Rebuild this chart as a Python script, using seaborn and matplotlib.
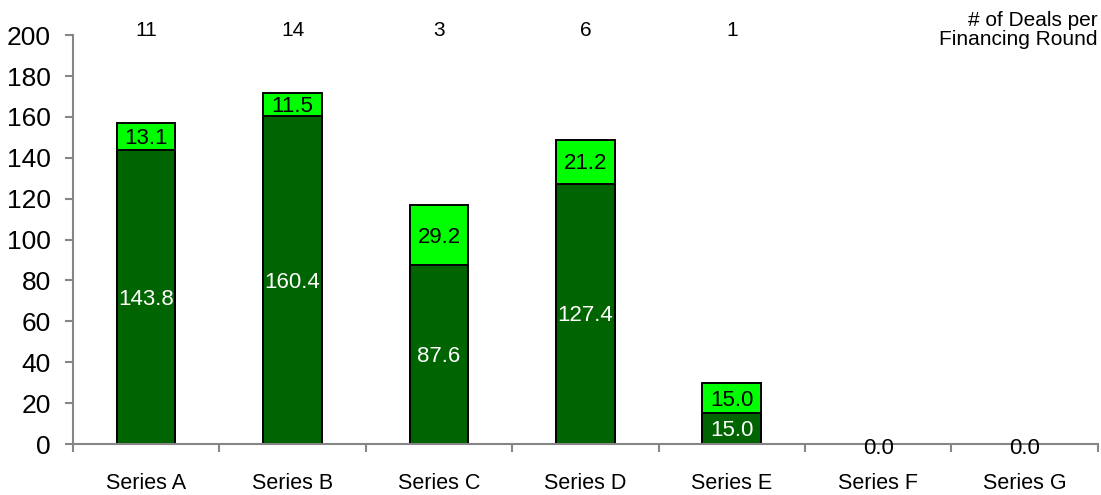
import matplotlib
matplotlib.use("Agg")
import matplotlib.pyplot as plt
import seaborn as sns
import pandas as pd
import numpy as np

# Capital invested per financing round ($M), split into two tranches
rounds = ["Series A", "Series B", "Series C", "Series D", "Series E", "Series F", "Series G"]
lower_vals = [143.8, 160.4, 87.6, 127.4, 15.0, 0.0, 0.0]
upper_vals = [13.1, 11.5, 29.2, 21.2, 15.0, 0.0, 0.0]
deal_counts = ["11", "14", "3", "6", "1", "", ""]
y_ticks = [0, 20, 40, 60, 80, 100, 120, 140, 160, 180, 200]

DARK = "#006400"
BRIGHT = "#00FF00"
GREY = "#868686"

sns.set_theme(style="white")
plt.rcParams["font.family"] = ["Liberation Sans", "DejaVu Sans"]

df = pd.DataFrame({
    "round": rounds,
    "lower": lower_vals,
    "upper": upper_vals,
})
df["total"] = df["lower"] + df["upper"]

fig = plt.figure(figsize=(11.01, 4.95), dpi=100)
ax = fig.add_axes([0.0663, 0.103, 0.9307, 0.826])

# Stacked bars: full height in bright green, lower tranche drawn on top
sns.barplot(data=df, x="round", y="total", color=BRIGHT, saturation=1,
            width=0.4, edgecolor="black", linewidth=1.4, ax=ax)
sns.barplot(data=df, x="round", y="lower", color=DARK, saturation=1,
            width=0.4, edgecolor="black", linewidth=1.4, ax=ax)

x = np.arange(len(rounds))
for i in range(len(rounds)):
    lo, up = lower_vals[i], upper_vals[i]
    if lo + up == 0:
        ax.text(x[i], -2, f"{lo:.1f}", ha="center", va="center",
                fontsize=16, color="black", clip_on=False)
        continue
    ax.text(x[i], lo / 2 - 1, f"{lo:.1f}", ha="center", va="center",
            fontsize=16, color="white")
    ax.text(x[i], lo + up / 2 - 1, f"{up:.1f}", ha="center", va="center",
            fontsize=16, color="black")
    ax.text(x[i], 202.5, deal_counts[i], ha="center", va="center",
            fontsize=15, color="black", clip_on=False)

ax.text(6.5, 202.5, "# of Deals per\nFinancing Round", ha="right", va="center",
        fontsize=15, color="black", linespacing=1.0, clip_on=False)

ax.set_ylim(0, 200)
ax.set_xlim(-0.5, len(rounds) - 0.5)
ax.set_yticks(y_ticks)
ax.tick_params(axis="y", labelsize=19, length=6, width=1.5, color=GREY,
               left=True, pad=10, labelcolor="black")

# Category labels sit between the boundary tick marks
ax.set_xticks(np.arange(len(rounds) + 1) - 0.5)
ax.set_xticklabels([])
ax.set_xticks(x, minor=True)
ax.set_xticklabels(rounds, minor=True)
ax.tick_params(axis="x", which="major", length=6, width=1.5, color=GREY, bottom=True)
ax.tick_params(axis="x", which="minor", length=0, labelsize=15.5, pad=21, labelcolor="black")

ax.set_xlabel("")
ax.set_ylabel("")
for side in ["top", "right"]:
    ax.spines[side].set_visible(False)
for side in ["left", "bottom"]:
    ax.spines[side].set_color(GREY)
    ax.spines[side].set_linewidth(1.5)

fig.savefig("out.png", dpi=100)
